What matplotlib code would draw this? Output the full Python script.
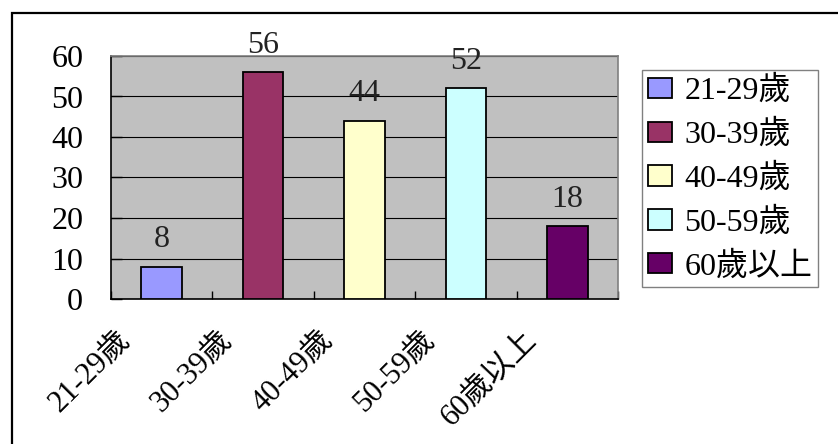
import matplotlib
matplotlib.use("Agg")
import matplotlib.pyplot as plt
from matplotlib.patches import Rectangle, Patch
from matplotlib.transforms import ScaledTranslation

categories = ["21-29歲", "30-39歲", "40-49歲", "50-59歲", "60歲以上"]
values = [8, 56, 44, 52, 18]
colors = ["#9999FF", "#993366", "#FFFFCC", "#CCFFFF", "#660066"]
yticks = [0, 10, 20, 30, 40, 50, 60]

FONT = ["Liberation Serif", "Noto Sans CJK TC"]
plt.rcParams["font.family"] = FONT

W, H = 838, 444
fig = plt.figure(figsize=(W / 100, H / 100), dpi=100)
fig.patch.set_facecolor("white")

# outer frame
fig.patches.append(Rectangle((12 / W, -0.2), 2.0, (H - 13) / H + 0.2,
                             transform=fig.transFigure, fill=False,
                             edgecolor="black", lw=1.6))

L, R, T, B = 111, 618, 56, 299
ax = fig.add_axes([L / W, (H - B) / H, (R - L) / W, (B - T) / H])
ax.set_facecolor("#C0C0C0")

x = list(range(len(categories)))
bars = ax.bar(x, values, width=0.4, color=colors, edgecolor="black", linewidth=1.3, zorder=3)
ax.bar_label(bars, labels=[str(v) for v in values], padding=9, fontsize=23, color="#222222")

ax.set_xlim(-0.5, len(categories) - 0.5)
ax.set_ylim(0, 60)
ax.set_yticks(yticks)
ax.set_yticklabels([str(v) for v in yticks], fontsize=23)
ax.tick_params(axis="y", direction="in", length=8, width=1, color="black", pad=20)
ax.yaxis.grid(True, color="black", lw=0.8)
ax.set_axisbelow(True)

# boundary ticks
ax.set_xticks([i - 0.5 for i in range(len(categories) + 1)], minor=True)
ax.tick_params(axis="x", which="minor", direction="in", length=6, width=1, color="black")
ax.set_xticks(x)
ax.set_xticklabels(categories, rotation=45, ha="right", va="center",
                   rotation_mode="anchor", fontsize=22)
ax.tick_params(axis="x", which="major", length=0, pad=0)
off = ScaledTranslation(-35 / 100, -37 / 100, fig.dpi_scale_trans)
for lab in ax.get_xticklabels():
    lab.set_transform(lab.get_transform() + off)

for s in ["top", "right"]:
    ax.spines[s].set_color("#808080")
    ax.spines[s].set_linewidth(1.2)
for s in ["left", "bottom"]:
    ax.spines[s].set_color("black")
    ax.spines[s].set_linewidth(1.2)

handles = [Patch(facecolor=c, edgecolor="black", linewidth=1.3) for c in colors]
leg = fig.legend(handles, categories, loc="upper left",
                 bbox_to_anchor=(642 / W, (H - 70) / H), fontsize=23,
                 frameon=True, fancybox=False, shadow=False,
                 edgecolor="#808080", framealpha=1,
                 handlelength=0.75, handleheight=0.6, handletextpad=0.4,
                 labelspacing=0.42, borderpad=0.18, borderaxespad=0)
leg.get_frame().set_linewidth(1.0)

fig.savefig("out.png", dpi=100)
